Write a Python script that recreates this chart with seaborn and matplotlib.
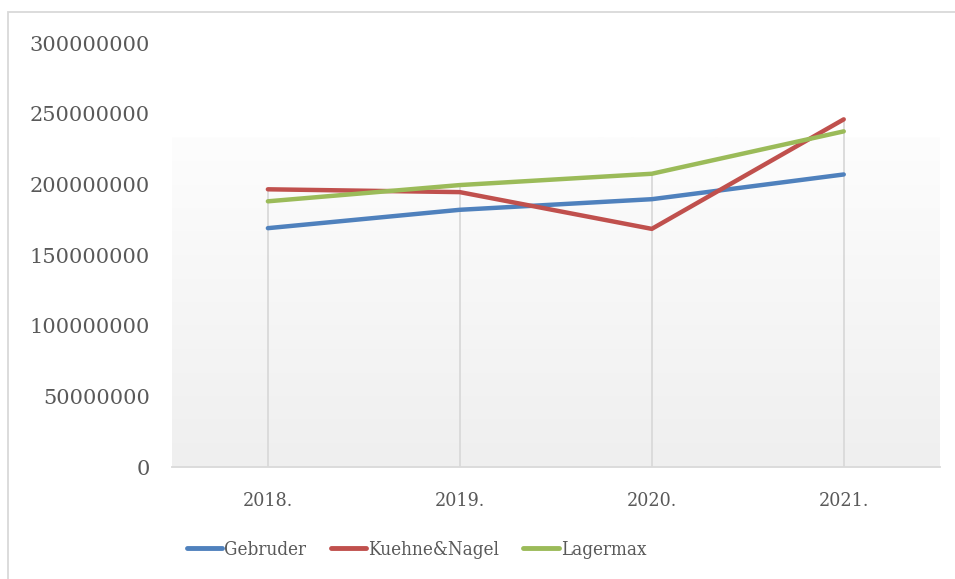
import numpy as np
import pandas as pd
import matplotlib
matplotlib.use("Agg")
import matplotlib.pyplot as plt
import seaborn as sns
from matplotlib.patches import Rectangle
from matplotlib.colors import LinearSegmentedColormap

years = ["2018.", "2019.", "2020.", "2021."]
gebruder = [169000000, 182000000, 189500000, 207000000]
kuehne_nagel = [196500000, 194500000, 168500000, 246000000]
lagermax = [188000000, 199500000, 207500000, 237500000]
series_names = ["Gebruder", "Kuehne&Nagel", "Lagermax"]
colors = ["#4f81bd", "#c0504d", "#9bbb59"]
yticks = [0, 50000000, 100000000, 150000000, 200000000, 250000000, 300000000]

df = pd.DataFrame({"year": years, "Gebruder": gebruder,
                   "Kuehne&Nagel": kuehne_nagel, "Lagermax": lagermax})
long_df = df.melt(id_vars="year", var_name="company", value_name="value")

sns.set_style("white")
plt.rcParams["font.family"] = ["DejaVu Serif"]

fig = plt.figure(figsize=(9.55, 5.79), dpi=100)
ax = fig.add_axes([0.180, 0.1934, 0.804, 0.7323])

# gradient background behind the plot area
grad_cmap = LinearSegmentedColormap.from_list("bg", ["#fdfdfd", "#efefef"])
ax.imshow(np.linspace(0, 1, 256).reshape(-1, 1), cmap=grad_cmap, aspect="auto",
          extent=[-0.5, 3.5, 0, 233000000], zorder=0, origin="upper")

# drop lines from the highest point at each year
tops = df[series_names].max(axis=1)
ax.vlines(np.arange(len(years)), 0, tops, color="#d9d9d9", linewidth=1.3, zorder=1)

sns.lineplot(data=long_df, x="year", y="value", hue="company", palette=colors,
             linewidth=3.2, sort=False, ax=ax, zorder=3)
for line in ax.lines:
    line.set_solid_capstyle("round")

ax.set_xlim(-0.5, 3.5)
ax.set_ylim(0, 300000000)
ax.set_yticks(yticks)
ax.set_yticklabels([str(v) for v in yticks])
ax.set_xlabel("")
ax.set_ylabel("")
for s in ["top", "left", "right"]:
    ax.spines[s].set_visible(False)
ax.spines["bottom"].set_color("#d9d9d9")
ax.spines["bottom"].set_linewidth(1.3)
ax.tick_params(axis="y", length=0, pad=16, labelsize=15, labelcolor="#595959")
ax.tick_params(axis="x", length=0, pad=18, labelsize=14, labelcolor="#595959")
for lab in ax.get_xticklabels():
    lab.set_fontstretch("condensed")

ax.legend_.remove()
handles = [plt.Line2D([], [], color=c, linewidth=3.5, solid_capstyle="round") for c in colors]
leg = fig.legend(handles, series_names, loc="center left", bbox_to_anchor=(0.178, 0.05),
                 ncol=3, frameon=False, handlelength=1.9, handletextpad=0.1,
                 columnspacing=1.3, prop={"size": 13.5, "stretch": "condensed"})
for t in leg.get_texts():
    t.set_color("#595959")

fig.add_artist(Rectangle((0.0084, -0.1), 1.2, 0.979 + 0.1, transform=fig.transFigure,
                         fill=False, edgecolor="#d9d9d9", linewidth=1.3, clip_on=False))

fig.savefig("out.png", dpi=100)
